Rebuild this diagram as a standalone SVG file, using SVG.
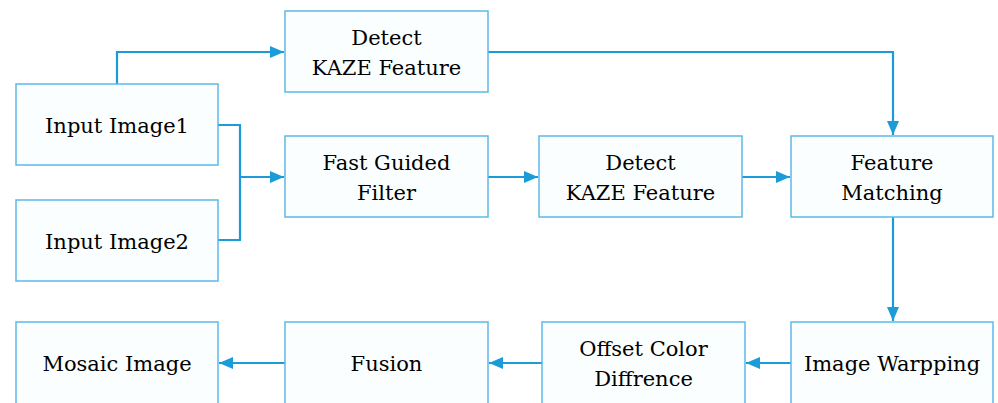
<svg xmlns="http://www.w3.org/2000/svg" width="998" height="403" viewBox="0 0 998 403">
<defs>
<style>
.box{fill:#fbfeff;stroke:#5db9e8;stroke-width:1.5}
.t{font-family:"DejaVu Serif","Liberation Serif",serif;font-size:21px;fill:#000;text-anchor:middle}
.c{fill:none;stroke:#1b9bd7;stroke-width:2.2}
</style>
<marker id="a" viewBox="0 0 14 12" refX="14" refY="6" markerWidth="14" markerHeight="12" markerUnits="userSpaceOnUse" orient="auto">
<path d="M0,0 L14,6 L0,12 z" fill="#1b9bd7"/>
</marker>
</defs>
<g id="connectors">
<path class="c" d="M117,84 V52 H284" marker-end="url(#a)"/>
<path class="c" d="M488,52 H893 V135" marker-end="url(#a)"/>
<path class="c" d="M218,125 H240 V240 H218"/>
<path class="c" d="M240,177 H284" marker-end="url(#a)"/>
<path class="c" d="M488,177 H538" marker-end="url(#a)"/>
<path class="c" d="M742,177 H790" marker-end="url(#a)"/>
<path class="c" d="M893,217 V321" marker-end="url(#a)"/>
<path class="c" d="M791,363 H746" marker-end="url(#a)"/>
<path class="c" d="M542,363 H489" marker-end="url(#a)"/>
<path class="c" d="M285,363 H219" marker-end="url(#a)"/>
</g>
<g id="detect1"><rect class="box" x="285" y="11" width="203" height="81"/><text class="t" x="386.5" y="45">Detect</text><text class="t" x="386.5" y="75">KAZE Feature</text></g>
<g id="input1"><rect class="box" x="16" y="84" width="202" height="81"/><text class="t" x="117" y="133">Input Image1</text></g>
<g id="input2"><rect class="box" x="16" y="200" width="202" height="81"/><text class="t" x="117" y="249">Input Image2</text></g>
<g id="fgf"><rect class="box" x="285" y="136" width="203" height="81"/><text class="t" x="386.5" y="170">Fast Guided</text><text class="t" x="386.5" y="200">Filter</text></g>
<g id="detect2"><rect class="box" x="539" y="136" width="203" height="81"/><text class="t" x="640.5" y="170">Detect</text><text class="t" x="640.5" y="200">KAZE Feature</text></g>
<g id="match"><rect class="box" x="791" y="136" width="202" height="81"/><text class="t" x="892" y="170">Feature</text><text class="t" x="892" y="200">Matching</text></g>
<g id="mosaic"><rect class="box" x="16" y="322" width="202" height="84"/><text class="t" x="117" y="371">Mosaic Image</text></g>
<g id="fusion"><rect class="box" x="285" y="322" width="203" height="84"/><text class="t" x="386.5" y="371">Fusion</text></g>
<g id="offset"><rect class="box" x="542" y="322" width="203" height="84"/><text class="t" x="643.5" y="356">Offset Color</text><text class="t" x="643.5" y="386">Diffrence</text></g>
<g id="warp"><rect class="box" x="791" y="322" width="202" height="84"/><text class="t" x="892" y="371">Image Warpping</text></g>
</svg>
